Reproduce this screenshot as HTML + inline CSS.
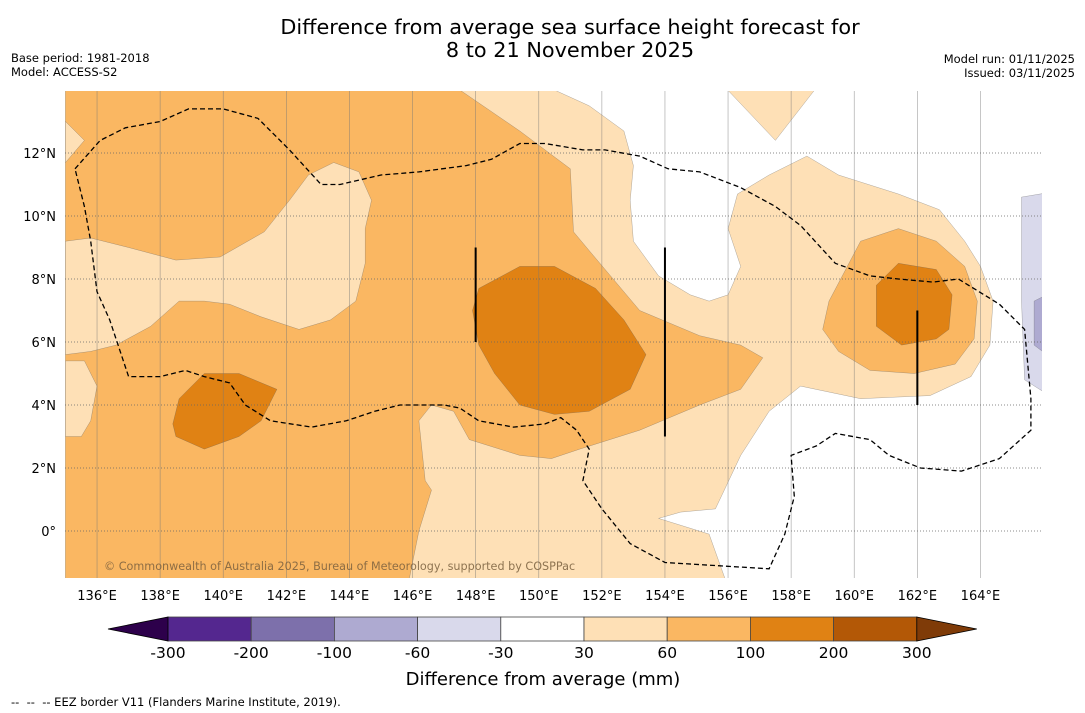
<!DOCTYPE html>
<html><head><meta charset="utf-8"><style>
html,body{margin:0;padding:0;background:#fff;}
svg{display:block;font-family:"DejaVu Sans","Liberation Sans",sans-serif;}
</style></head><body>
<svg id="chart" width="1085" height="713" viewBox="0 0 1085 713" xmlns="http://www.w3.org/2000/svg">
<rect width="1085" height="713" fill="#fff"/>
<text x="570" y="34" text-anchor="middle" font-size="20.8">Difference from average sea surface height forecast for</text>
<text x="570" y="57" text-anchor="middle" font-size="20.8">8 to 21 November 2025</text>
<text x="11" y="62" font-size="11.5">Base period: 1981-2018</text>
<text x="11" y="76" font-size="11.5">Model: ACCESS-S2</text>
<text x="1075" y="63" text-anchor="end" font-size="11.5">Model run: 01/11/2025</text>
<text x="1075" y="77" text-anchor="end" font-size="11.5">Issued: 03/11/2025</text>
<defs><clipPath id="mapclip"><rect x="65" y="91" width="977" height="487"/></clipPath></defs>
<g id="map" clip-path="url(#mapclip)"></g>
<g id="axes"></g>
<g id="cbar"></g>
<text x="104" y="570" font-size="11.2" fill="#7a6040" fill-opacity="0.85">© Commonwealth of Australia 2025, Bureau of Meteorology, supported by COSPPac</text>
<text x="543" y="685" text-anchor="middle" font-size="18">Difference from average (mm)</text>
<text x="11" y="706" font-size="11.5" xml:space="preserve">--  --  -- EEZ border V11 (Flanders Marine Institute, 2019).</text>
</svg>
<script>
const lonTicks=[136,138,140,142,144,146,148,150,152,154,156,158,160,162,164];
const latTicks=[0,2,4,6,8,10,12];
const levels=[-300,-200,-100,-60,-30,30,60,100,200,300];
const levelColors=["#54278f","#7d70ab","#aeaad1","#d9d9eb","#ffffff","#fee0b6","#fab762","#e08214","#b35806"];
const extendLow="#2d004b", extendHigh="#7f3b08";
const orangeMain=[[135,14],[147.5,14],[149.4,12.7],[151,11.5],[151.1,9.5],[151.6,8.9],[153.2,7],[155.1,6.2],[156.4,5.9],[157.1,5.5],[156.4,4.5],[155.1,4],[153.2,3.2],[151.3,2.6],[150.4,2.3],[149.4,2.4],[147.8,2.9],[147.3,3.8],[146.6,4],[146.2,3.5],[146.4,1.6],[146.6,1.3],[146.2,0],[145.9,-1.5],[135,-1.5]];
const lightBand=[[135,9.2],[135.8,9.3],[137,9],[138.5,8.6],[139.9,8.7],[141.3,9.5],[142.1,10.5],[142.7,11.3],[143.5,11.7],[144.3,11.4],[144.7,10.5],[144.5,9.6],[144.5,8.5],[144.2,7.3],[143.4,6.7],[142.4,6.4],[141.2,6.8],[140.2,7.2],[139.4,7.3],[138.6,7.3],[137.7,6.5],[136.6,5.9],[135.8,5.7],[135,5.6]];
const lightLeft=[[135,5.4],[135.6,5.4],[136,4.6],[135.8,3.5],[135.5,3],[135,3]];
const lightTopLeft=[[135,13],[135.6,12.4],[135,11.7]];
const orangeRight=[[159.2,7.3],[160.2,9.2],[161.4,9.6],[162.6,9.2],[163.5,8.4],[163.9,7.3],[163.8,6.1],[163.2,5.3],[161.9,5],[160.5,5.1],[159.5,5.7],[159,6.4]];
const dark1=[[148.1,7.7],[149.4,8.4],[150.5,8.4],[151.8,7.7],[152.7,6.7],[153.4,5.6],[152.9,4.5],[151.6,3.8],[150.5,3.7],[149.4,4],[148.6,5],[148.1,5.9],[147.9,7]];
const dark2=[[138.4,3.4],[138.6,4.2],[139.4,5],[140.5,5],[141.7,4.5],[141.2,3.5],[140.5,3],[139.4,2.6],[138.5,3]];
const dark3=[[160.7,7.8],[161.4,8.5],[162.6,8.3],[163.1,7.5],[163,6.4],[162.6,6.1],[161.5,5.9],[160.7,6.5]];
const whiteRegion=[[150.5,14],[151.6,13.5],[152.7,12.7],[153,11.6],[152.9,10.5],[153,9.2],[153.8,8.1],[154.8,7.5],[155.4,7.3],[156,7.5],[156.4,8.4],[156,9.6],[156.3,10.7],[157.3,11.3],[158.5,11.9],[159.5,11.3],[161.4,10.7],[162.7,10.2],[163.5,9.2],[164,8.4],[164.4,7.3],[164.3,5.9],[163.7,4.9],[162.4,4.3],[160.2,4.2],[158.3,4.6],[157.3,3.8],[156.4,2.4],[155.6,0.7],[154.5,0.6],[153.8,0.4],[155.4,-0.1],[155.9,-1.5],[166.5,-1.5],[166.5,14]];
const lightTopRight=[[155.8,14.2],[157.5,12.4],[158.9,14.2]];
const purpleLight=[[165.3,10.6],[166.5,10.8],[166.5,4.1],[165.4,4.8],[165.3,7.3]];
const purpleMid=[[165.7,7.3],[166.5,7.7],[166.5,5.3],[165.7,5.9]];
const eez=[[135.3,11.5],[136.1,12.4],[136.9,12.8],[138,13],[138.9,13.4],[140,13.4],[141.1,13.1],[142.1,12.1],[143.1,11],[143.7,11],[145,11.3],[146.2,11.4],[147.7,11.6],[148.5,11.8],[149.4,12.3],[150.2,12.3],[151.4,12.1],[152.1,12.1],[153.2,11.9],[154.1,11.5],[155.1,11.4],[156.4,10.9],[157.5,10.3],[158.3,9.7],[159.4,8.5],[160.5,8.1],[161.4,8],[162.5,7.9],[163.3,8],[164.6,7.2],[165.4,6.4],[165.6,4.2],[165.6,3.2],[164.6,2.3],[163.4,1.9],[162.1,2],[161.1,2.4],[160.5,2.9],[159.4,3.1],[158.8,2.7],[158,2.4],[158.1,1.1],[157.8,-0.1],[157.3,-1.2],[154,-1],[152.9,-0.4],[152,0.7],[151.4,1.6],[151.6,2.6],[151.2,3.2],[150.7,3.6],[150.2,3.4],[149.2,3.3],[148.1,3.5],[147.5,3.9],[147,4],[145.6,4],[144.8,3.8],[143.9,3.5],[142.8,3.3],[141.5,3.5],[140.7,4],[140.2,4.7],[139.4,4.9],[138.8,5.1],[138,4.9],[137,4.9],[136.4,6.7],[136,7.6],[135.8,9.2],[135.6,10.3],[135.3,11.5]];
const barLons=[148,154,162];
const barTop=[9,9,7];
const barBottom=[6,3,4];

const NS="http://www.w3.org/2000/svg";
const X=lon=>65.5+(lon-135)*31.55;
const Y=lat=>531-lat*31.5;
function mk(tag,attrs,parent){const e=document.createElementNS(NS,tag);for(const k in attrs)e.setAttribute(k,attrs[k]);parent.appendChild(e);return e;}
const map=document.getElementById('map');
const axes=document.getElementById('axes');
const cbar=document.getElementById('cbar');
const pts=a=>a.map(p=>X(p[0]).toFixed(1)+','+Y(p[1]).toFixed(1)).join(' ');

let bg=mk('rect',{x:65,y:91,width:977,height:487,fill:levelColors[5]},map);


const layers=[
 ['orange-main-region',orangeMain,levelColors[6]],
 ['light-band-region',lightBand,levelColors[5]],
 ['light-left-region',lightLeft,levelColors[5]],
 ['light-top-left-region',lightTopLeft,levelColors[5]],
 ['white-region',whiteRegion,levelColors[4]],
 ['light-top-right-region',lightTopRight,levelColors[5]],
 ['orange-right-region',orangeRight,levelColors[6]],
 ['dark-orange-central',dark1,levelColors[7]],
 ['dark-orange-west',dark2,levelColors[7]],
 ['dark-orange-east',dark3,levelColors[7]],
 ['purple-light-region',purpleLight,levelColors[3]],
 ['purple-mid-region',purpleMid,levelColors[2]]
];
layers.forEach(l=>{
 const p=mk('polygon',{points:pts(l[1]),fill:l[2],stroke:'#555','stroke-width':0.4,'stroke-opacity':0.6},map);
 
 
});
lonTicks.forEach(lon=>{
 const g=mk('line',{x1:X(lon),x2:X(lon),y1:91,y2:578,stroke:'#777','stroke-width':0.7,'stroke-opacity':0.6},map);
 
 
 const t=mk('text',{x:X(lon),y:600,'text-anchor':'middle','font-size':13},axes);
 t.textContent=lon+'°E';
 
 
});
latTicks.forEach(lat=>{
 const g=mk('line',{x1:65,x2:1042,y1:Y(lat),y2:Y(lat),stroke:'#666','stroke-width':0.8,'stroke-dasharray':'1,2'},map);
 
 
 const t=mk('text',{x:56,y:Y(lat)+5,'text-anchor':'end','font-size':13},axes);
 t.textContent=lat===0?'0°':lat+'°N';
 
 
});
const e=mk('polyline',{points:pts(eez),fill:'none',stroke:'#000','stroke-width':1.3,'stroke-dasharray':'5,3'},map);


barLons.forEach((lon,i)=>{
 const b=mk('line',{x1:X(lon),x2:X(lon),y1:Y(barTop[i]),y2:Y(barBottom[i]),stroke:'#000','stroke-width':2},map);
 
 
});
const cx0=168, cw=83.2, cy=617, ch=24;
levelColors.forEach((c,i)=>{
 const r=mk('rect',{x:cx0+i*cw,y:cy,width:cw,height:ch,fill:c,stroke:'#444','stroke-width':0.8},cbar);
 
 
});
const lo=mk('polygon',{points:`108,${cy+ch/2} ${cx0},${cy} ${cx0},${cy+ch}`,fill:extendLow,stroke:'#000','stroke-width':0.8},cbar);


const xe=cx0+levelColors.length*cw;
const hi=mk('polygon',{points:`${xe},${cy} ${xe+60},${cy+ch/2} ${xe},${cy+ch}`,fill:extendHigh,stroke:'#000','stroke-width':0.8},cbar);


levels.forEach((v,i)=>{
 const t=mk('text',{x:cx0+i*cw,y:658,'text-anchor':'middle','font-size':15.5},cbar);
 t.textContent=v;
 
 
});
</script>
</body></html>
